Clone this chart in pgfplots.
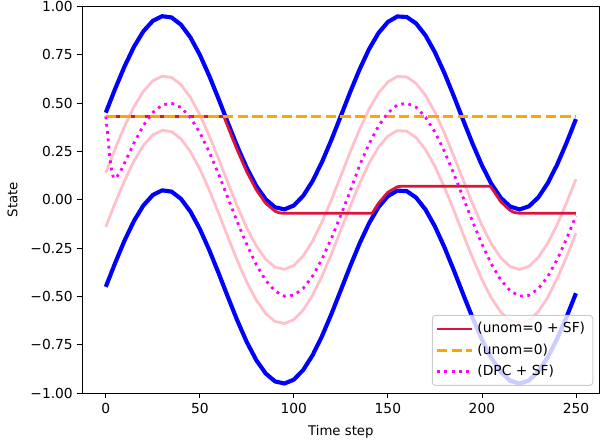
\documentclass[border=0pt]{standalone}
\usepackage{fontspec}
\setmainfont{DejaVu Sans}
\usepackage{pgfplots}
\usepackage{pgfplotstable}
\usetikzlibrary{calc}
\pgfplotsset{compat=1.18}
\definecolor{mblue}{RGB}{0,0,255}
\definecolor{mpink}{RGB}{255,192,203}
\definecolor{mcrimson}{RGB}{220,20,60}
\definecolor{morange}{RGB}{255,165,0}
\definecolor{mmagenta}{RGB}{255,0,255}
\definecolor{legedge}{RGB}{204,204,204}

\pgfplotstableread{
t ub lb pu pl
0 0.45 -0.45 0.14 -0.14
5 0.5737 -0.3263 0.2637 -0.0163
10 0.6897 -0.2103 0.3797 0.0997
15 0.7908 -0.1092 0.4808 0.2008
20 0.8707 -0.0293 0.5607 0.2807
25 0.9245 0.0245 0.6145 0.3345
30 0.9487 0.0487 0.6387 0.3587
35 0.9420 0.0420 0.6320 0.3520
40 0.9046 0.0046 0.5946 0.3146
45 0.8390 -0.0610 0.5290 0.2490
50 0.7492 -0.1508 0.4392 0.1592
55 0.6408 -0.2592 0.3308 0.0508
60 0.5206 -0.3794 0.2106 -0.0694
65 0.3959 -0.5041 0.0859 -0.1941
70 0.2746 -0.6254 -0.0354 -0.3154
75 0.1642 -0.7358 -0.1458 -0.4258
80 0.0716 -0.8284 -0.2384 -0.5184
85 0.0025 -0.8975 -0.3075 -0.5875
90 -0.0387 -0.9387 -0.3487 -0.6287
95 -0.0496 -0.9496 -0.3596 -0.6396
100 -0.0295 -0.9295 -0.3395 -0.6195
105 0.0206 -0.8794 -0.2894 -0.5694
110 0.0973 -0.8027 -0.2127 -0.4927
115 0.1959 -0.7041 -0.1141 -0.3941
120 0.3103 -0.5897 0.0003 -0.2797
125 0.4334 -0.4666 0.1234 -0.1566
130 0.5575 -0.3425 0.2475 -0.0325
135 0.6750 -0.2250 0.3650 0.0850
140 0.7785 -0.1215 0.4685 0.1885
145 0.8617 -0.0383 0.5517 0.2717
150 0.9190 0.0190 0.6090 0.3290
155 0.9473 0.0473 0.6373 0.3573
160 0.9447 0.0447 0.6347 0.3547
165 0.9113 0.0113 0.6013 0.3213
170 0.8493 -0.0507 0.5393 0.2593
175 0.7624 -0.1376 0.4524 0.1724
180 0.6560 -0.2440 0.3460 0.0660
185 0.5370 -0.3630 0.2270 -0.0530
190 0.4124 -0.4876 0.1024 -0.1776
195 0.2903 -0.6097 -0.0197 -0.2997
200 0.1780 -0.7220 -0.1320 -0.4120
205 0.0827 -0.8173 -0.2273 -0.5073
210 0.0102 -0.8898 -0.2998 -0.5798
215 -0.0351 -0.9351 -0.3451 -0.6251
220 -0.0500 -0.9500 -0.3600 -0.6400
225 -0.0339 -0.9339 -0.3439 -0.6239
230 0.0123 -0.8877 -0.2977 -0.5777
235 0.0857 -0.8143 -0.2243 -0.5043
240 0.1817 -0.7183 -0.1283 -0.4083
245 0.2945 -0.6055 -0.0155 -0.2955
250 0.4169 -0.4831 0.1069 -0.1731
}\bounds

\pgfplotstableread{
t y
0 0.43
62.8 0.43
65 0.376
67.5 0.314
70 0.255
75 0.144
80 0.052
85 -0.018
90 -0.059
92 -0.067
94.2 -0.07
141.7 -0.07
143 -0.049
145 -0.018
150 0.039
155 0.067
157.1 0.07
204.6 0.07
205 0.063
210 -0.010
215 -0.055
217 -0.065
219.9 -0.07
250 -0.07
}\redsf

\pgfplotstableread{
t y
0 0.43
250 0.43
}\unom

\pgfplotstableread{
t y
0 0.43
1 0.34
2 0.23
3 0.16
4 0.115
5 0.11
6 0.12
8 0.15
10 0.19
15 0.293
20 0.384
25 0.451
30 0.490
35 0.499
40 0.477
45 0.425
50 0.347
55 0.247
60 0.132
65 0.008
70 -0.116
75 -0.232
80 -0.335
85 -0.416
90 -0.472
95 -0.498
100 -0.493
105 -0.458
110 -0.394
115 -0.306
120 -0.199
125 -0.079
130 0.046
135 0.179
140 0.289
145 0.381
150 0.449
155 0.490
160 0.499
165 0.478
170 0.427
175 0.350
180 0.251
185 0.136
190 0.012
195 -0.112
200 -0.229
205 -0.332
210 -0.414
215 -0.470
220 -0.498
225 -0.494
230 -0.460
235 -0.397
240 -0.309
245 -0.202
250 -0.083
}\dpc

\begin{document}
\begin{tikzpicture}
\begin{axis}[
  scale only axis,
  width=387.9bp, height=290.25bp,
  xmin=-12.5, xmax=262.5, ymin=-1, ymax=1,
  xtick={0,50,100,150,200,250},
  ytick={-1,-0.75,-0.5,-0.25,0,0.25,0.5,0.75,1},
  yticklabels={−1.00,−0.75,−0.50,−0.25,0.00,0.25,0.50,0.75,1.00},
  /pgf/number format/assume math mode=true,
  tick pos=left, tick align=outside,
  major tick length=3.6bp,
  every tick/.style={black, line width=0.6bp},
  axis line style={line width=0.6bp},
  tick label style={font=\fontsize{10.4}{12}\selectfont},
  label style={font=\fontsize{10.4}{12}\selectfont},
  xlabel={Time step}, ylabel={State},
  every axis x label/.style={at={([yshift=-28.8bp]axis description cs:0.5,0)}, anchor=center},
  every axis y label/.style={at={([xshift=-52.2bp]axis description cs:0,0.5)}, anchor=center, rotate=90},
  legend style={at={(1,0)}, anchor=south east, xshift=-4.6bp, yshift=5.5bp,
    draw=legedge, line width=0.75bp, rounded corners=2.5bp, fill=white, fill opacity=0.8,
    text opacity=1, draw opacity=1, font=\fontsize{10.4}{12}\selectfont,
    inner xsep=2.6bp, inner ysep=5.3bp, row sep=6bp,
    nodes={inner xsep=3.2bp, inner ysep=0bp, text height=7.9bp, text depth=2.1bp},
    /tikz/every even column/.append style={column sep=7bp},
    cells={anchor=west}},
  legend image code/.code={\draw[#1] (0bp,0bp) -- (26bp,0bp);},
  legend cell align=left,
]
\addplot[mblue, line width=3.1bp, forget plot] table[x=t, y=ub] {\bounds};
\addplot[mblue, line width=3.1bp, forget plot] table[x=t, y=lb] {\bounds};
\addplot[mpink, line width=2.1bp, forget plot] table[x=t, y=pu] {\bounds};
\addplot[mpink, line width=2.1bp, forget plot] table[x=t, y=pl] {\bounds};
\addplot[mcrimson, line width=2.1bp] table[x=t, y=y] {\redsf};
\addlegendentry{(unom=0 + SF)}
\addplot[morange, line width=2.1bp, dash pattern=on 7.7bp off 3.3bp] table[x=t, y=y] {\unom};
\addlegendentry{(unom=0)}
\addplot[mmagenta, line width=2.1bp, dash pattern=on 2.1bp off 3.4bp] table[x=t, y=y] {\dpc};
\addlegendentry{(DPC + SF)}
\end{axis}
\pgfresetboundingbox
\path[use as bounding box] ($(current axis.south west)+(-61.7bp,-38bp)$) rectangle ($(current axis.north east)+(0.4bp,4.7bp)$);
\end{tikzpicture}
\end{document}
